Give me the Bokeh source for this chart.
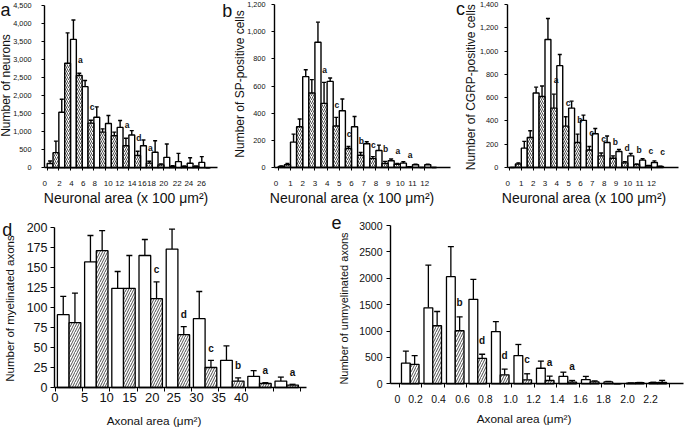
import math
from bokeh.plotting import figure
from bokeh.layouts import row, column
from bokeh.models import (ColumnDataSource, Range1d, FixedTicker, NumeralTickFormatter,
                          CustomJSTickFormatter, Label, Whisker, TeeHead)
from bokeh.core.properties import value
from bokeh.embed import file_html
from bokeh.resources import INLINE

# ---------------- data ----------------
# open bars = control, hatched bars = treated; *_err = top of the error bar
a_ticks = ["0", "2", "4", "6", "8", "10", "12", "14", "16", "18", "20", "22", "24", "26"]
a_open = [120, 1540, 3560, 2250, 1400, 1230, 1120, 910, 610, 430, 290, 170, 125, 150]
a_open_err = [190, 1900, 4100, 2420, 1690, 1450, 1310, 1030, 770, 750, 660, 400, 280, 310]
a_hatch = [420, 2900, 2560, 1240, 990, 890, 610, 340, 130, 80, 40, 30, 30, 0]
a_hatch_err = [740, 3740, 2620, 1320, 1080, 990, 820, 460, 180, 110, 60, 50, 50, 0]
a_sig = ["", "", "a", "c", "", "", "a", "d", "a", "", "", "", "", ""]
a_yticks = [0, 500, 1000, 1500, 2000, 2500, 3000, 3500, 4000, 4500]

b_ticks = ["0", "1", "2", "3", "4", "5", "6", "7", "8", "9", "10", "11", "12"]
b_open = [8, 187, 669, 922, 634, 418, 300, 175, 125, 50, 32, 20, 20]
b_open_err = [12, 246, 720, 1070, 659, 504, 375, 190, 165, 63, 42, 25, 25]
b_hatch = [20, 300, 548, 472, 305, 140, 90, 65, 30, 24, 4, 0, 0]
b_hatch_err = [30, 357, 647, 627, 369, 155, 110, 80, 45, 30, 6, 0, 0]
b_sig = ["", "", "", "a", "c", "c", "b", "c", "b", "a", "a", "", ""]
b_yticks = [0, 200, 400, 600, 800, 1000, 1200]

c_ticks = ["0", "1", "2", "3", "4", "5", "6", "7", "8", "9", "10", "11", "12"]
c_open = [0, 166, 640, 1100, 875, 510, 405, 290, 215, 138, 100, 63, 43]
c_open_err = [0, 224, 690, 1280, 970, 570, 450, 335, 270, 155, 120, 75, 57]
c_hatch = [30, 258, 610, 510, 355, 215, 150, 100, 80, 40, 25, 15, 9]
c_hatch_err = [40, 316, 700, 630, 436, 287, 180, 125, 100, 50, 30, 18, 12]
c_sig = ["", "", "", "a", "c", "b", "c", "c", "b", "d", "b", "c", "c"]
c_yticks = [0, 200, 400, 600, 800, 1000, 1200, 1400]

d_ticks = ["0", "5", "10", "15", "20", "25", "30", "35", "40"]
d_open = [91, 157, 124, 165, 173, 86, 34, 14, 8]
d_open_err = [114, 190, 145, 185, 198, 120, 52, 21, 13]
d_hatch = [81, 171, 124, 111, 66, 25, 8, 5, 3]
d_hatch_err = [118, 196, 165, 132, 76, 34, 12, 6, 4]
d_sig = ["", "", "", "c", "d", "c", "b", "a", "a"]
d_yticks = [0, 25, 50, 75, 100, 125, 150, 175, 200]

e_ticks = ["0", "0.2", "0.4", "0.6", "0.8", "1.0", "1.2", "1.4", "1.6", "1.8", "2.0", "2.2"]
e_open = [390, 1440, 2030, 1600, 990, 535, 295, 140, 78, 35, 10, 20]
e_open_err = [620, 2250, 2600, 1980, 1180, 745, 430, 220, 140, 45, 15, 30]
e_hatch = [370, 1100, 1005, 480, 170, 76, 63, 32, 35, 0, 20, 25]
e_hatch_err = [535, 1370, 1270, 560, 280, 190, 145, 63, 55, 0, 25, 65]
e_sig = ["", "", "b", "d", "d", "c", "a", "a", "", "", "", ""]
e_yticks = [0, 500, 1000, 1500, 2000, 2500, 3000]

# ---------------- layout / style ----------------
FONT = "Liberation Sans"
TXT = "#111111"
NEUR = "Neuronal area (x 100 \u03bcm\u00b2)"
AXON = "Axonal area (\u03bcm\u00b2)"


def make_panel(cfg, opn, opn_err, hat, hat_err, sig, tick_labels, yticks):
    X0, Y0, X1, Y1 = cfg["box"]
    W, H = X1 - X0, Y1 - Y0
    fl, ft, fr, fb = cfg["frame"]          # axes extent in page pixels
    t0, gw = cfg["grid"]
    xs, xe = (fl - t0) / gw, (fr - t0) / gw
    ymax = yticks[-1]
    # whole figure is the plotting frame; axes are pinned at their locations
    FL, FR = fl - X0, fr - X0
    FT, FB = ft - Y0, fb - Y0
    kx = (xe - xs) / (FR - FL)
    ky = ymax / (FB - FT)
    p = figure(width=W, height=H,
               x_range=Range1d(xs - FL * kx, xe + (W - FR) * kx),
               y_range=Range1d(-(H - FB) * ky, ymax + FT * ky),
               output_backend="svg", toolbar_location=None, title=None,
               min_border_left=0, min_border_right=0, min_border_top=0, min_border_bottom=0)
    p.outline_line_color = None
    p.xgrid.visible = False
    p.ygrid.visible = False
    p.background_fill_color = "white"
    p.border_fill_color = "white"

    def dx(px):
        return xs + (px - fl) / (fr - fl) * (xe - xs)

    def dy(py):
        return (fb - py) / (fb - ft) * ymax

    oc, hc, bw = cfg["bars"]
    n = len(opn)
    src_o = ColumnDataSource(dict(x=[k + oc for k in range(n)], top=opn, err=opn_err))
    src_h = ColumnDataSource(dict(x=[k + hc for k in range(n)], top=hat, err=hat_err))
    lw = cfg["lw"]
    p.vbar(x="x", top="top", bottom=0, width=bw, source=src_o,
           fill_color="white", line_color="black", line_width=lw)
    p.vbar(x="x", top="top", bottom=0, width=bw, source=src_h,
           fill_color="white", line_color="black", line_width=lw,
           hatch_pattern="/", hatch_color="#222222", hatch_scale=cfg["hs"], hatch_weight=0.8)
    for src in (src_o, src_h):
        p.add_layout(Whisker(source=src, base="x", lower="top", upper="err", dimension="height",
                             line_color="black", line_width=lw,
                             upper_head=TeeHead(size=cfg["cap"], line_color="black", line_width=lw),
                             lower_head=None))

    off = cfg["sig_off"] * ymax / (fb - ft)
    lx, ly, lt = [], [], []
    for k, s in enumerate(sig):
        if s:
            lx.append(k + cfg["sig_dx"])
            ly.append(hat_err[k] + off)
            lt.append(s)
    p.text(x=lx, y=ly, text=lt, text_font=value(FONT), text_font_style="bold",
           text_font_size=value(cfg["sig_fs"]), text_align="center", text_baseline="middle",
           text_color=TXT)

    # x axis
    xa = p.xaxis[0]
    xa.fixed_location = 0
    xa.bounds = (xs, xe)
    pos = cfg["xlab_pos"]
    xa.ticker = FixedTicker(ticks=pos, minor_ticks=cfg["minor"])
    xa.formatter = CustomJSTickFormatter(args=dict(pos=pos, labs=tick_labels), code="""
        for (let i = 0; i < pos.length; i++) { if (Math.abs(pos[i] - tick) < 1e-6) return labs[i]; }
        return "";""")
    xa.major_tick_out = cfg["xlab_off"]
    xa.major_tick_in = 0
    xa.major_tick_line_color = None
    xa.minor_tick_out = cfg["xtl"]
    xa.minor_tick_in = 0
    xa.minor_tick_line_color = "black"
    xa.minor_tick_line_width = 1
    xa.major_label_standoff = cfg["xstand"]
    xa.major_label_text_font = FONT
    xa.major_label_text_font_size = cfg["xfs"]
    xa.major_label_text_color = TXT
    xa.axis_line_color = "black"
    xa.axis_line_width = cfg["aw"]

    # y axis
    ya = p.yaxis[0]
    ya.fixed_location = xs
    ya.bounds = (0, ymax)
    ya.ticker = FixedTicker(ticks=yticks)
    if cfg["comma"]:
        ya.formatter = NumeralTickFormatter(format="0,0")
    ya.major_tick_out = cfg["ytl"]
    ya.major_tick_in = 0
    ya.minor_tick_out = 0
    ya.minor_tick_in = 0
    ya.major_tick_line_color = "black"
    ya.major_label_standoff = cfg["ystand"]
    ya.major_label_text_font = FONT
    ya.major_label_text_font_size = cfg["yfs"]
    ya.major_label_text_color = TXT
    ya.axis_line_color = "black"
    ya.axis_line_width = cfg["aw"]

    # titles and panel letter
    for txt, (px, py), ang, fs in [
        (cfg["ytitle"], cfg["ytitle_at"], math.pi / 2, cfg["tfs"]),
        (cfg["xtitle"], cfg["xtitle_at"], 0, cfg["xtfs"]),
        (cfg["letter"], cfg["letter_at"], 0, "18px"),
    ]:
        p.add_layout(Label(x=dx(px), y=dy(py), text=txt, angle=ang,
                           text_align="center", text_baseline="middle",
                           text_font=FONT, text_font_size=fs, text_color=TXT))
    return p


top_common = dict(bars=(0.25, 0.75, 0.5), lw=1.4, hs=4, cap=4, sig_fs="8.5px",
                  xlab_off=3, xtl=3, xstand=10, xfs="8px", aw=1.4, comma=True,
                  ytl=3, yfs="7.3px", tfs="12px", xtfs="14px")

cfg_a = dict(top_common, box=(0, 0, 219, 212), frame=(44, 5, 217, 167.3), grid=(46.67, 11.67),
             xlab_pos=[-0.2, 1.06, 2.08, 3.09, 4.08, 5.23, 6.22, 7.28, 8.14, 8.94, 9.99, 11.14, 12.14, 13.22],
             minor=list(range(0, 14)), sig_off=13, sig_dx=0.85, ystand=10,
             ytitle="Number of neurons", ytitle_at=(5, 85),
             xtitle=NEUR, xtitle_at=(125.5, 197), letter="a", letter_at=(5, 9))
cfg_b = dict(top_common, box=(219, 0, 451, 212), frame=(274, 4, 450, 167), grid=(277.8, 12.2),
             xlab_pos=[-0.2, 1, 2, 3, 4, 5, 6, 7, 8, 9, 10, 11, 12],
             minor=list(range(0, 13)), sig_off=12, sig_dx=0.8, ystand=6,
             ytitle="Number of SP-positive cells", ytitle_at=(239, 83.5),
             xtitle=NEUR, xtitle_at=(351.5, 197), letter="b", letter_at=(226.7, 10))
cfg_c = dict(top_common, box=(451, 0, 684, 212), frame=(506.7, 4, 678, 167), grid=(509, 11.83),
             xlab_pos=[-0.15, 1, 2, 3, 4, 5, 6, 7, 8, 9, 10, 11, 12],
             minor=list(range(0, 13)), sig_off=14, sig_dx=0.95, ystand=6,
             ytitle="Number of CGRP-positive cells", ytitle_at=(470, 86.7),
             xtitle=NEUR, xtitle_at=(583.5, 197), letter="c", letter_at=(460, 8))
cfg_d = dict(box=(0, 212, 326, 430), frame=(54, 227, 306, 387), grid=(55, 27.2),
             bars=(0.285, 0.715, 0.43), lw=1.3, hs=5, cap=6, sig_fs="10px",
             xlab_pos=[-0.02, 1.07, 1.88, 2.72, 3.56, 4.35, 5.18, 6.0, 6.83],
             minor=list(range(0, 10)), sig_off=12, sig_dx=0.715,
             xlab_off=2, xtl=4, xstand=1, xfs="13px", aw=1.4, comma=False,
             ytl=4, ystand=3, yfs="12.5px", tfs="11.5px", xtfs="11.8px",
             ytitle="Number of myelinated axons", ytitle_at=(9, 308),
             xtitle=AXON, xtitle_at=(153.5, 420), letter="d", letter_at=(6.7, 229))
cfg_e = dict(box=(326, 212, 684, 430), frame=(390, 225, 683, 383.3), grid=(398.5, 22.5),
             bars=(0.305, 0.695, 0.39), lw=1.3, hs=5, cap=6, sig_fs="10px",
             xlab_pos=[-0.07, 0.73, 1.76, 2.82, 3.84, 4.96, 5.98, 7.04, 8.07, 9.09, 10.16, 11.18],
             minor=list(range(0, 13)), sig_off=14, sig_dx=0.69,
             xlab_off=4, xtl=4, xstand=7, xfs="10.5px", aw=1.4, comma=False,
             ytl=4, ystand=4, yfs="10.5px", tfs="11px", xtfs="11.8px",
             ytitle="Number of unmyelinated axons", ytitle_at=(343, 308),
             xtitle=AXON, xtitle_at=(523.5, 418.5), letter="e", letter_at=(336, 222))

pa = make_panel(cfg_a, a_open, a_open_err, a_hatch, a_hatch_err, a_sig, a_ticks, a_yticks)
pb = make_panel(cfg_b, b_open, b_open_err, b_hatch, b_hatch_err, b_sig, b_ticks, b_yticks)
pc = make_panel(cfg_c, c_open, c_open_err, c_hatch, c_hatch_err, c_sig, c_ticks, c_yticks)
pd = make_panel(cfg_d, d_open, d_open_err, d_hatch, d_hatch_err, d_sig, d_ticks, d_yticks)
pe = make_panel(cfg_e, e_open, e_open_err, e_hatch, e_hatch_err, e_sig, e_ticks, e_yticks)

layout = column(row(pa, pb, pc), row(pd, pe))
open("out.html", "w").write(file_html(layout, INLINE))
